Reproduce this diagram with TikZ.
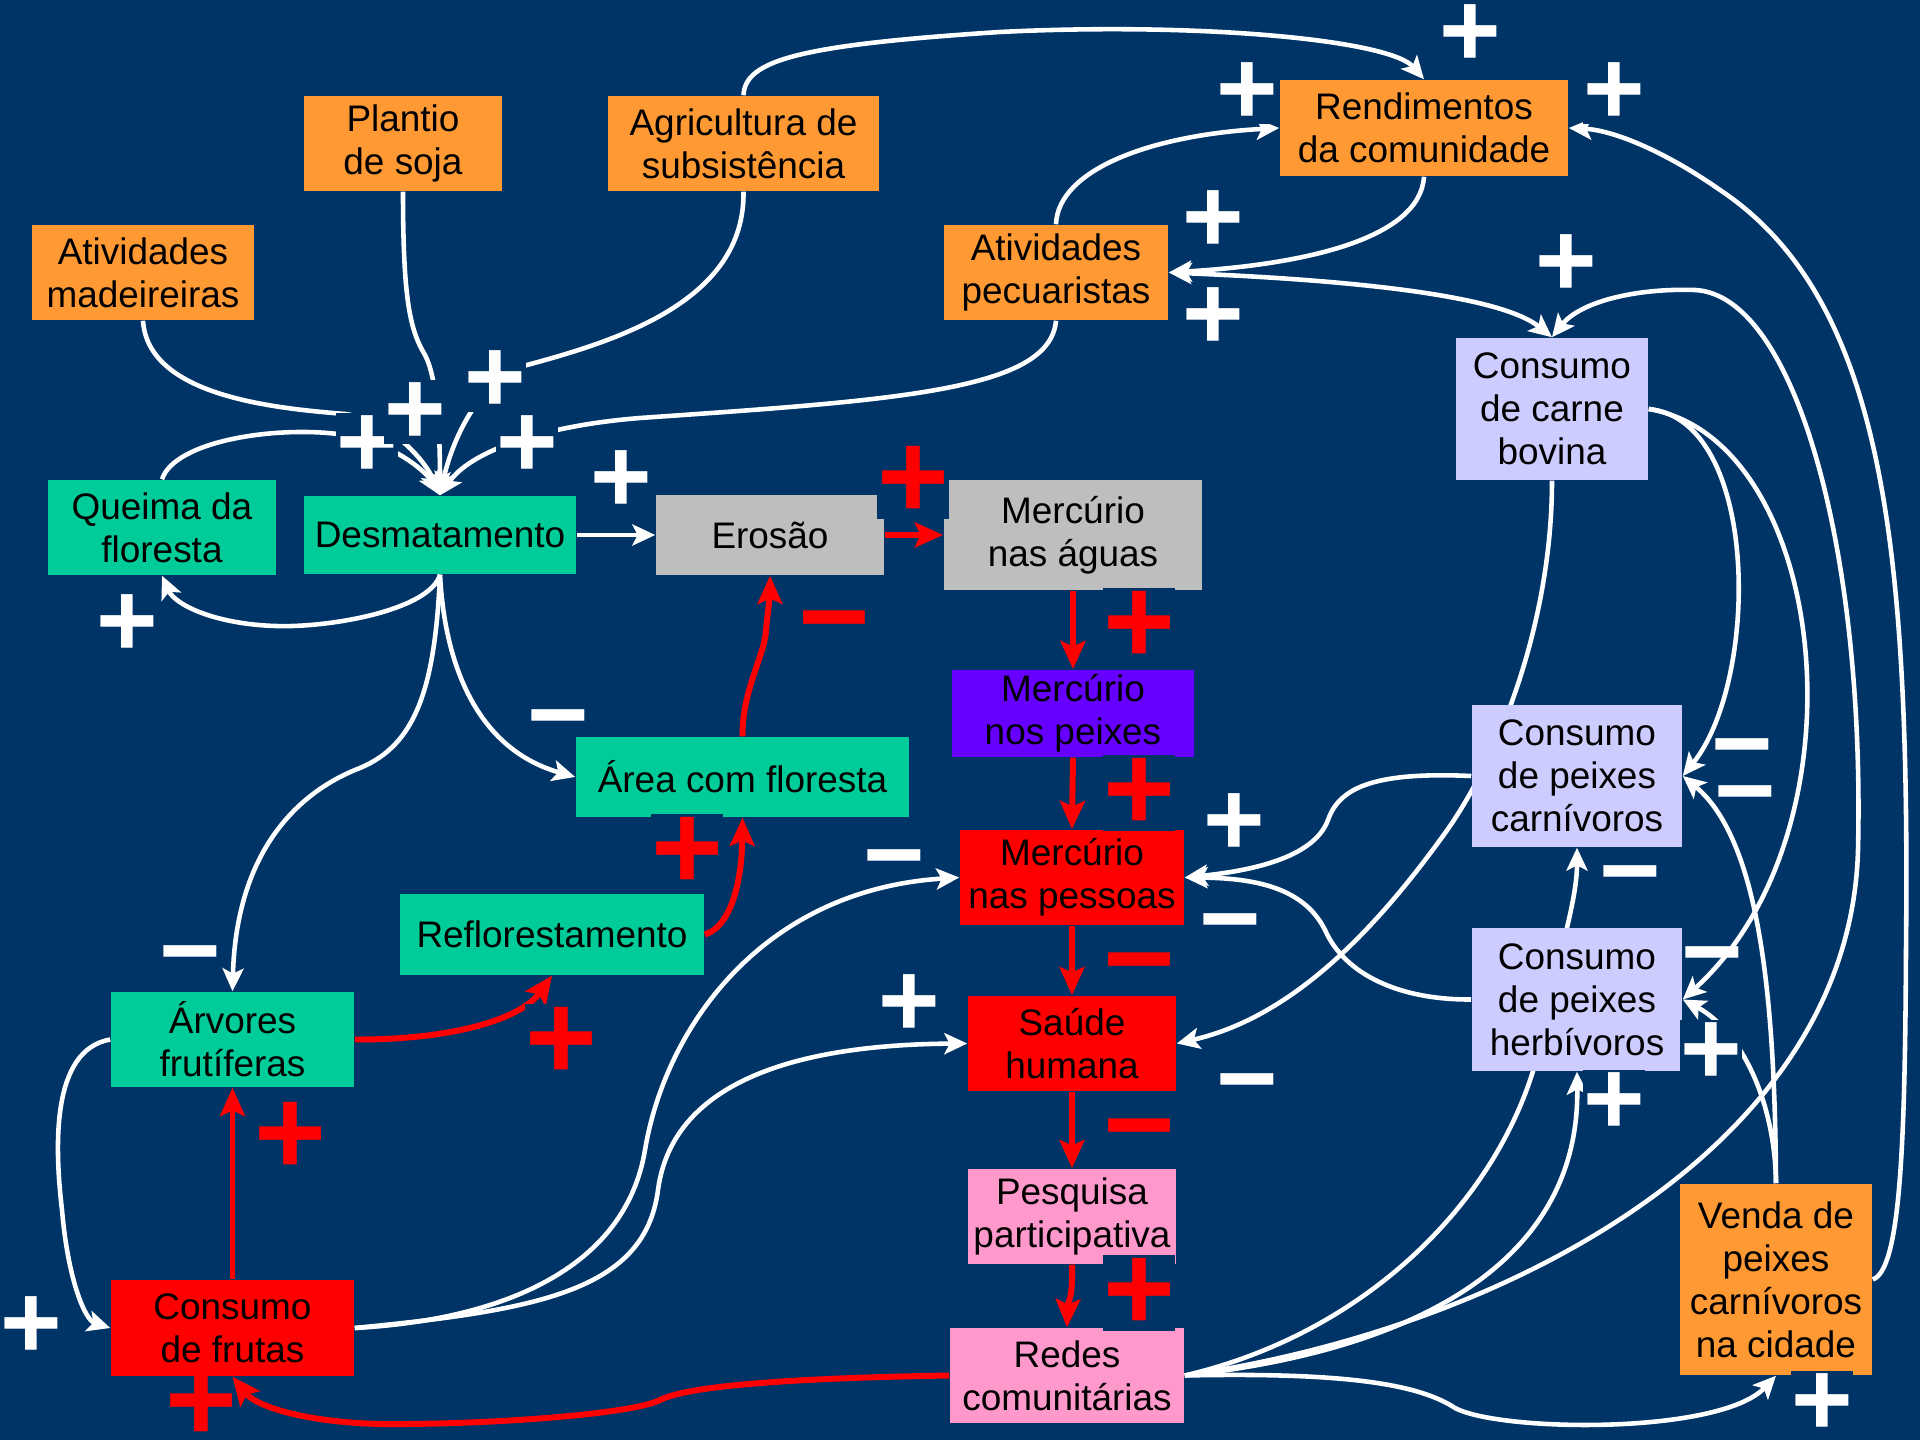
\documentclass[tikz,border=0pt]{standalone}
\usepackage{fontspec}
\setmainfont{Liberation Sans}
\usetikzlibrary{arrows.meta}
\definecolor{bg}{RGB}{0,51,102}
\definecolor{corange}{RGB}{255,153,51}
\definecolor{cteal}{RGB}{0,204,153}
\definecolor{cgray}{RGB}{190,190,190}
\definecolor{cpurple}{RGB}{102,0,255}
\definecolor{cred}{RGB}{255,0,0}
\definecolor{cpink}{RGB}{255,153,204}
\definecolor{clav}{RGB}{204,204,255}
\pgfdeclarelayer{backdrop}
\pgfdeclarelayer{edges}
\pgfsetlayers{backdrop,edges,main}
\tikzset{
  box/.style={rectangle, inner sep=0pt, align=center, text=black,
    font=\fontsize{10.5}{12.2}\selectfont},
  wl/.style={draw=white, line width=1.3pt, -{Stealth[length=6.5pt,width=6pt,inset=1.5pt]}},
  wlb/.style={draw=white, line width=1.3pt, {Stealth[length=6.5pt,width=6pt,inset=1.5pt]}-{Stealth[length=6.5pt,width=6pt,inset=1.5pt]}},
  rl/.style={draw=cred, line width=1.7pt, -{Stealth[length=8pt,width=7pt,inset=1.5pt]}},
  wplus/.style={text=white, fill=bg, inner sep=0pt, font=\fontsize{30}{30}\selectfont\bfseries, text height=18.3pt, text depth=-3.3pt},
  wminus/.style={text=white, inner sep=0pt, font=\fontsize{30}{30}\selectfont\bfseries, text height=16.5pt, text depth=-13.5pt},
  rplus/.style={text=cred, fill=bg, inner sep=0pt, font=\fontsize{35}{35}\selectfont\bfseries, text height=21.4pt, text depth=-3.9pt},
  rplusnf/.style={rplus, fill=none},
  rminus/.style={text=cred, inner sep=0pt, font=\fontsize{35}{35}\selectfont\bfseries, text height=18.5pt, text depth=-15pt},
}
\begin{document}
\begin{tikzpicture}[x=0.01cm,y=-0.01cm]
\begin{pgfonlayer}{backdrop}
\fill[bg] (0,0) rectangle (1920,1440);
\end{pgfonlayer}
\useasboundingbox (0,0) rectangle (1920,1440);

% ---------- nodes ----------
\node[box, fill=corange, minimum width=2.22cm, minimum height=0.95cm] (mad) at (143,272.5) {Atividades\\madeireiras};
\node[box, fill=corange, minimum width=1.98cm, minimum height=0.95cm] (soja) at (403,143.5) {Plantio\\de soja};
\node[box, fill=corange, minimum width=2.71cm, minimum height=0.95cm] (agr) at (743.5,143.5) {Agricultura de\\subsistência};
\node[box, fill=corange, minimum width=2.24cm, minimum height=0.95cm] (pec) at (1056,272.5) {Atividades\\pecuaristas};
\node[box, fill=corange, minimum width=2.88cm, minimum height=0.96cm] (ren) at (1424,128) {Rendimentos\\da comunidade};
\node[box, fill=clav, minimum width=1.92cm, minimum height=1.42cm] (cb) at (1552,409) {Consumo\\de carne\\bovina};
\node[box, fill=cteal, minimum width=2.28cm, minimum height=0.95cm] (que) at (162,527.5) {Queima da\\floresta};
\node[box, fill=cteal, minimum width=2.72cm, minimum height=0.78cm] (des) at (440,535) {Desmatamento};
\node[box, fill=cgray, minimum width=2.28cm, minimum height=0.80cm] (ero) at (770,535) {Erosão};
\node[box, fill=cgray, minimum width=2.58cm, minimum height=1.10cm] (mag) at (1073,535) {Mercúrio\\nas águas};
\node[box, fill=cpurple, minimum width=2.42cm, minimum height=0.87cm] (mpx) at (1073,713.5) {Mercúrio\\nos peixes};
\node[box, fill=cteal, minimum width=3.33cm, minimum height=0.80cm] (area) at (742.5,777) {Área com floresta};
\node[box, fill=cteal, minimum width=3.04cm, minimum height=0.81cm] (ref) at (552,934.5) {Reflorestamento};
\node[box, fill=cred, minimum width=2.24cm, minimum height=0.95cm] (mpe) at (1072,877.5) {Mercúrio\\nas pessoas};
\node[box, fill=cred, minimum width=2.08cm, minimum height=0.95cm] (sau) at (1072,1043.5) {Saúde\\humana};
\node[box, fill=cpink, minimum width=2.08cm, minimum height=0.95cm] (pes) at (1072,1216.5) {Pesquisa\\participativa};
\node[box, fill=cpink, minimum width=2.34cm, minimum height=0.95cm] (red) at (1067,1375.5) {Redes\\comunitárias};
\node[box, fill=cteal, minimum width=2.43cm, minimum height=0.95cm] (arv) at (232.5,1039.5) {Árvores\\frutíferas};
\node[box, fill=cred, minimum width=2.43cm, minimum height=0.96cm] (cfr) at (232.5,1328) {Consumo\\de frutas};
\node[box, fill=clav, minimum width=2.10cm, minimum height=1.42cm] (cpc) at (1577,776) {Consumo\\de peixes\\carnívoros};
\node[box, fill=clav, minimum width=2.10cm, minimum height=1.43cm] (cph) at (1577,999.5) {Consumo\\de peixes\\herbívoros};
\node[box, fill=corange, minimum width=1.92cm, minimum height=1.91cm] (ven) at (1776,1279.5) {Venda de\\peixes\\carnívoros\\na cidade};

% ---------- connectors ----------
\begin{pgfonlayer}{edges}
% into Desmatamento
\draw[wl] (mad.south) .. controls (148,395) and (270,408) .. (345,414) .. controls (390,420) and (425,460) .. (des.north);
\draw[wl] (que.north) .. controls (175,440) and (280,425) .. (345,435) .. controls (390,442) and (425,470) .. (des.north);
\draw[wl] (soja.south) .. controls (403,300) and (410,330) .. (425,355) .. controls (437,378) and (440,430) .. (des.north);
\draw[wl] (agr.south) .. controls (745,300) and (620,340) .. (527,365) .. controls (480,378) and (452,440) .. (des.north);
\draw[wl] (pec.south) .. controls (1050,390) and (900,400) .. (640,418) .. controls (540,426) and (470,452) .. (des.north);
% out of Desmatamento
\draw[wl] (des.south) .. controls (430,610) and (330,628) .. (275,626) .. controls (215,624) and (175,605) .. (que.south);
\draw[wl] (des.east) -- (ero.west);
\draw[wl] (des.south) .. controls (445,670) and (480,750) .. (area.west);
\draw[wl] (des.south) .. controls (435,690) and (415,745) .. (360,768) .. controls (290,795) and (236,860) .. (arv.north);
% top
\draw[wl] (agr.north) .. controls (745,60) and (800,45) .. (1000,32) .. controls (1200,22) and (1390,40) .. (ren.north);
\draw[wl] (pec.north) .. controls (1058,170) and (1150,135) .. (ren.west);
\draw[wl] (ren.south) .. controls (1420,240) and (1300,265) .. (pec.east);
\draw[wlb] (pec.east) .. controls (1350,280) and (1500,295) .. (cb.north);
% right side arcs
\draw[wl] (red.east) .. controls (1500,1330) and (1850,1150) .. (1858,850) .. controls (1865,550) and (1795,295) .. (1695,290) .. controls (1635,288) and (1580,302) .. (cb.north);
\draw[wl] (ven.east) .. controls (1900,1270) and (1905,1150) .. (1906,950) .. controls (1910,550) and (1885,300) .. (1720,190) .. controls (1660,148) and (1610,130) .. (ren.east);
\draw[wl] (cb.east) .. controls (1760,420) and (1760,680) .. (cpc.east);
\draw[wl] (cb.east) .. controls (1830,440) and (1870,830) .. (cph.east);
\draw[wl] (ven.north) .. controls (1775,1000) and (1760,840) .. (cpc.east);
\draw[wl] (ven.north) .. controls (1775,1100) and (1740,1030) .. (cph.east);
% from Redes
\draw[wl] (red.east) .. controls (1380,1330) and (1520,1180) .. (1545,1020) .. controls (1560,950) and (1577,900) .. (cpc.south);
\draw[wl] (red.east) .. controls (1420,1350) and (1580,1260) .. (cph.south);
\draw[wl] (red.east) .. controls (1350,1372) and (1420,1385) .. (1455,1408) .. controls (1500,1432) and (1720,1435) .. (ven.south);
% into Mercurio nas pessoas / Saude
\draw[wl] (cpc.west) .. controls (1380,772) and (1340,785) .. (1328,820) .. controls (1315,855) and (1260,870) .. (mpe.east);
\draw[wl] (cph.west) .. controls (1400,1000) and (1345,975) .. (1325,930) .. controls (1305,890) and (1260,878) .. (mpe.east);
\draw[wl] (cb.south) .. controls (1552,620) and (1500,760) .. (1440,840) .. controls (1360,950) and (1280,1020) .. (sau.east);
\draw[wl] (cfr.east) .. controls (500,1320) and (625,1270) .. (645,1150) .. controls (665,1030) and (760,890) .. (mpe.west);
\draw[wl] (cfr.east) .. controls (540,1310) and (645,1290) .. (658,1190) .. controls (670,1100) and (760,1045) .. (sau.west);
% left loop
\draw[wl] (arv.west) .. controls (50,1050) and (55,1150) .. (62,1210) .. controls (68,1280) and (85,1320) .. (cfr.west);
% red chain
\draw[rl] (ero.east) -- (mag.west);
\draw[rl] (mag.south) -- (mpx.north);
\draw[rl] (mpx.south) -- (mpe.north);
\draw[rl] (mpe.south) -- (sau.north);
\draw[rl] (sau.south) -- (pes.north);
\draw[rl] (pes.south) .. controls (1073,1300) and (1068,1300) .. (red.north);
\draw[rl] (cfr.north) -- (arv.south);
\draw[rl] (arv.east) .. controls (450,1040) and (520,1020) .. (ref.south);
\draw[rl] (ref.east) .. controls (735,925) and (742,870) .. (area.south);
\draw[rl] (area.north) .. controls (742,690) and (765,655) .. (766,630) .. controls (768,610) and (770,595) .. (ero.south);
\draw[rl] (red.west) .. controls (800,1378) and (690,1385) .. (660,1400) .. controls (630,1415) and (480,1425) .. (380,1424) .. controls (300,1422) and (255,1405) .. (cfr.south);
\end{pgfonlayer}

% ---------- polarity signs ----------
\node[wplus] (s1) at (1470,34) {+};
\node[wplus] (s2) at (1247,92) {+};
\node[wplus] (s3) at (1614,92) {+};
\node[wplus] (s4) at (1213,220) {+};
\node[wplus] (s5) at (1213,317) {+};
\node[wplus] (s6) at (1566,264) {+};
\node[wplus] (s7) at (621,480) {+};
\node[wplus] (s8) at (367,445) {+};
\node[wplus] (s9) at (415,412) {+};
\node[wplus] (s10) at (495,380) {+};
\node[wplus] (s11) at (527,445) {+};
\node[wplus] (s12) at (127,624) {+};
\node[wplus] (s13) at (1234,823) {+};
\node[wplus] (s14) at (909,1004) {+};
\node[wplus] (s15) at (31,1326) {+};
\node[wplus] (s16) at (1614,1102) {+};
\node[wplus] (s17) at (1711,1052) {+};
\node[wplus] (s18) at (1822,1403) {+};
\node[wminus] (s19) at (558,721) {−};
\node[wminus] (s20) at (190,957) {−};
\node[wminus] (s21) at (894,861) {−};
\node[wminus] (s22) at (1230,925) {−};
\node[wminus] (s23) at (1247,1085) {−};
\node[wminus] (s24) at (1630,877) {−};
\node[wminus] (s25) at (1742,750) {−};
\node[wminus] (s26) at (1745,797) {−};
\node[wminus] (s27) at (1712,958) {−};
\node[rplus] (s28) at (913,481) {+};
\node[rplus] (s29) at (1139,626) {+};
\node[rplus] (s30) at (1139,793) {+};
\node[rplus] (s31) at (687,852) {+};
\node[rplus] (s32) at (561,1042) {+};
\node[rplus] (s33) at (290,1137) {+};
\node[rplus] (s34) at (1139,1293) {+};
\node[rplusnf] (s35) at (201,1404) {+};
\node[rminus] (s36) at (834,626) {−};
\node[rminus] (s37) at (1139,968) {−};
\node[rminus] (s38) at (1139,1134) {−};
\end{tikzpicture}
\end{document}
